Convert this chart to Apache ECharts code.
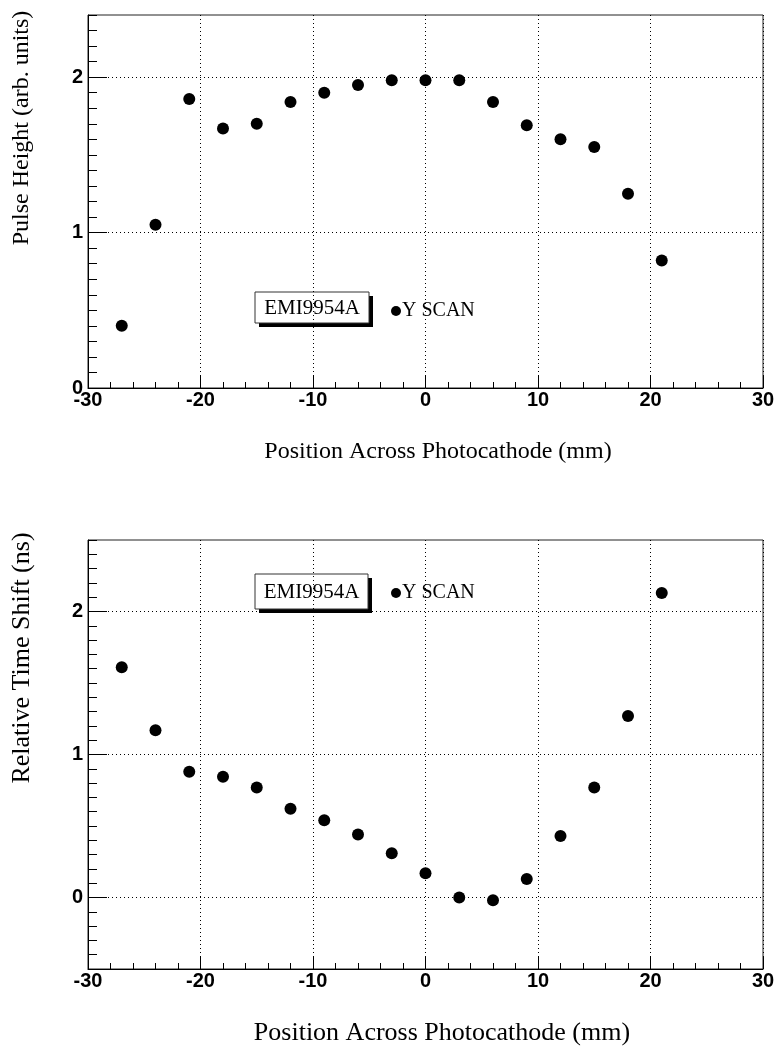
<!DOCTYPE html>
<html>
<head>
<meta charset="utf-8">
<script src="https://cdn.jsdelivr.net/npm/echarts@6/dist/echarts.min.js"></script>
<style>
  html, body { margin: 0; padding: 0; background: #fff; }
  #chart { width: 776px; height: 1048px; }
</style>
</head>
<body>
<div id="chart"></div>
<script>
// scan positions (mm)
const positions = [-27, -24, -21, -18, -15, -12, -9, -6, -3, 0, 3, 6, 9, 12, 15, 18, 21];
// pulse height (arb. units)
const pulseHeight = [0.40, 1.05, 1.86, 1.67, 1.70, 1.84, 1.90, 1.95, 1.98, 1.98, 1.98, 1.84, 1.69, 1.60, 1.55, 1.25, 0.82];
// relative time shift (ns)
const timeShift = [1.61, 1.17, 0.88, 0.845, 0.77, 0.62, 0.54, 0.44, 0.31, 0.17, 0.00, -0.02, 0.13, 0.43, 0.77, 1.27, 2.13];
// labelled y ticks
const yTicksTop = [0, 1, 2];
const yTicksBottom = [0, 1, 2];

const SERIF = '"Liberation Serif", "Times New Roman", serif';
const SANS = '"Liberation Sans", Arial, sans-serif';

function pairs(xs, ys) {
  return xs.map((x, i) => [x, ys[i]]);
}

function xAxisFor(gridIndex) {
  return {
    type: 'value', gridIndex: gridIndex, min: -30, max: 30, interval: 10,
    axisLine: { show: true, onZero: false, lineStyle: { color: '#000', width: 1 } },
    axisTick: { show: true, inside: true, length: 13, lineStyle: { color: '#000' } },
    minorTick: { show: true, splitNumber: 5, length: 6, lineStyle: { color: '#000' } },
    axisLabel: { color: '#000', fontFamily: SANS, fontWeight: 'bold', fontSize: 20, margin: 2 },
    splitLine: { show: true, lineStyle: { color: '#000', width: 1, type: [1, 3] } }
  };
}

function yMajor(gridIndex, min, max, ticks) {
  return {
    type: 'value', gridIndex: gridIndex, position: 'left', min: min, max: max,
    axisLine: { show: true, onZero: false, lineStyle: { color: '#000', width: 1 } },
    axisTick: { show: true, inside: true, length: 19, customValues: ticks, lineStyle: { color: '#000' } },
    axisLabel: { color: '#000', fontFamily: SANS, fontWeight: 'bold', fontSize: 20, margin: 5, customValues: ticks },
    splitLine: { show: true, lineStyle: { color: '#000', width: 1, type: [1, 3] } }
  };
}

// fine ticks every 0.1
function yMinor(gridIndex, min, max) {
  return {
    type: 'value', gridIndex: gridIndex, position: 'left', offset: 0, min: min, max: max, interval: 0.1,
    axisLine: { show: false, onZero: false },
    axisTick: { show: true, inside: true, length: 9, lineStyle: { color: '#000' } },
    axisLabel: { show: false },
    splitLine: { show: false }
  };
}

function labelBox(x, y, w, h, text) {
  return {
    type: 'group',
    children: [
      { type: 'rect', shape: { x: x + 4, y: y + 4, width: w, height: h }, style: { fill: '#000' } },
      { type: 'rect', shape: { x: x, y: y, width: w, height: h }, style: { fill: '#fff', stroke: '#333', lineWidth: 1 } },
      { type: 'text', x: x + w / 2, y: y + h / 2 + 1,
        style: { text: text, font: '21px ' + SERIF, fill: '#000', align: 'center', verticalAlign: 'middle', textAlign: 'center', textVerticalAlign: 'middle' } }
    ]
  };
}

function titleText(x, y, text, size, rotated) {
  return {
    type: 'text', x: x, y: y, rotation: rotated ? Math.PI / 2 : 0,
    style: { text: text, font: size + 'px ' + SERIF, fill: '#000', align: 'center', verticalAlign: 'middle', textAlign: 'center', textVerticalAlign: 'middle' }
  };
}

function legendAt(left, top) {
  return {
    data: ['Y SCAN'], left: left, top: top, padding: 0,
    icon: 'circle', itemWidth: 10, itemHeight: 10, itemGap: 0,
    selectedMode: false,
    textStyle: { fontFamily: SERIF, fontSize: 20, color: '#000', padding: [0, 0, 0, -4] }
  };
}

const chart = echarts.init(document.getElementById('chart'));
chart.setOption({
  animation: false,
  backgroundColor: '#fff',
  grid: [
    { left: 88, top: 15, width: 675, height: 373, show: true, borderColor: '#222', borderWidth: 1, outerBoundsMode: 'none' },
    { left: 88, top: 540, width: 675, height: 429, show: true, borderColor: '#222', borderWidth: 1, outerBoundsMode: 'none' }
  ],
  xAxis: [xAxisFor(0), xAxisFor(1)],
  yAxis: [
    yMajor(0, 0, 2.4, yTicksTop),
    yMinor(0, 0, 2.4),
    yMajor(1, -0.5, 2.5, yTicksBottom),
    yMinor(1, -0.5, 2.5)
  ],
  legend: [legendAt(391, 301), legendAt(391, 583)],
  series: [
    {
      name: 'Y SCAN', type: 'scatter', xAxisIndex: 0, yAxisIndex: 0,
      symbol: 'circle', symbolSize: 12, itemStyle: { color: '#000', opacity: 1 },
      data: pairs(positions, pulseHeight)
    },
    {
      name: 'Y SCAN', type: 'scatter', xAxisIndex: 1, yAxisIndex: 2,
      symbol: 'circle', symbolSize: 12, itemStyle: { color: '#000', opacity: 1 },
      data: pairs(positions, timeShift)
    }
  ],
  graphic: [
    titleText(22, 128, 'Pulse Height (arb. units)', 24, true),
    titleText(438, 452, 'Position Across Photocathode (mm)', 24, false),
    titleText(22, 658, 'Relative Time Shift (ns)', 26, true),
    titleText(442, 1033, 'Position Across Photocathode (mm)', 26, false),
    labelBox(255, 292, 114, 31, 'EMI9954A'),
    labelBox(255, 574, 113, 35, 'EMI9954A')
  ]
});
</script>
</body>
</html>
